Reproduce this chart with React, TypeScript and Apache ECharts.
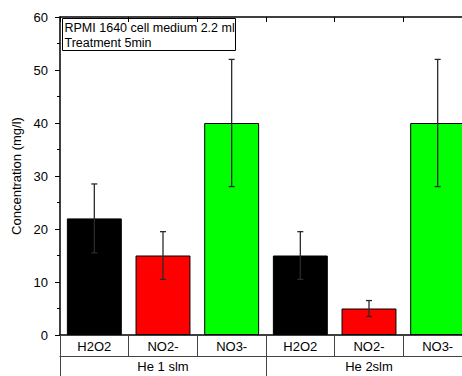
import React, { useEffect, useRef } from "react";
import * as echarts from "echarts";

const categories = ["H2O2", "NO2-", "NO3-", "H2O2", "NO2-", "NO3-"];
const groups = ["He 1 slm", "He 2slm"];
const values = [22, 15, 40, 15, 5, 40];
const errors = [6.5, 4.5, 12, 4.5, 1.5, 12];
const barColors = ["#000000", "#ff0000", "#00ff00", "#000000", "#ff0000", "#00ff00"];
const noteLines = ["RPMI 1640 cell medium 2.2 ml", "Treatment 5min"];

const FONT = "'Liberation Sans', Arial, sans-serif";

export default function App() {
  const ref = useRef<HTMLDivElement>(null);
  useEffect(() => {
    if (!ref.current) return;
    const chart = echarts.init(ref.current, undefined, { renderer: "svg" });
    chart.setOption({
      animation: false,
      backgroundColor: "#ffffff",
      grid: { left: 60, right: 0, top: 17, bottom: 41, containLabel: false },
      xAxis: [
        {
          type: "category",
          data: categories,
          position: "bottom",
          boundaryGap: true,
          axisLine: { show: true, lineStyle: { color: "#000", width: 1.5 } },
          axisTick: { show: true, interval: 0, length: 21, alignWithLabel: false, lineStyle: { color: "#444", width: 1 } },
          axisLabel: { interval: 0, color: "#000", fontFamily: FONT, fontSize: 13, margin: 5 },
          splitLine: { show: false },
        },
        {
          type: "category",
          data: groups,
          position: "bottom",
          offset: 21,
          boundaryGap: true,
          axisLine: { show: true, lineStyle: { color: "#444", width: 1 } },
          axisTick: { show: true, interval: 0, length: 21, lineStyle: { color: "#444", width: 1 } },
          axisLabel: { interval: 0, color: "#000", fontFamily: FONT, fontSize: 13, margin: 4 },
        },
        {
          type: "category",
          data: categories,
          position: "top",
          boundaryGap: true,
          axisLine: { show: true, lineStyle: { color: "#000", width: 1.5 } },
          axisTick: { show: true, inside: true, interval: 0, length: 5, lineStyle: { color: "#000", width: 1 } },
          axisLabel: { show: false },
        },
      ],
      yAxis: {
        type: "value",
        min: 0,
        max: 60,
        interval: 10,
        name: "Concentration (mg/l)",
        nameLocation: "middle",
        nameGap: 33,
        nameTextStyle: { color: "#000", fontFamily: FONT, fontSize: 13 },
        axisLine: { show: true, lineStyle: { color: "#000", width: 1.5 } },
        axisTick: { show: true, length: 5, lineStyle: { color: "#000", width: 1 } },
        minorTick: { show: true, splitNumber: 2, length: 3, lineStyle: { color: "#000", width: 1 } },
        axisLabel: { color: "#000", fontFamily: FONT, fontSize: 13, margin: 12 },
        splitLine: { show: false },
      },
      series: [
        {
          type: "bar",
          xAxisIndex: 0,
          barWidth: "80%",
          data: values.map((v, i) => ({
            value: v,
            itemStyle: { color: barColors[i], borderColor: "#000", borderWidth: 1 },
          })),
          z: 2,
        },
        {
          type: "custom",
          xAxisIndex: 0,
          z: 5,
          data: values.map((v, i) => [i, v, errors[i]]),
          renderItem: (params: any, api: any) => {
            const x = api.value(0);
            const v = api.value(1);
            const e = api.value(2);
            const top = api.coord([x, v + e]);
            const bot = api.coord([x, v - e]);
            const hw = 3;
            const st = { stroke: "#2a2a2a", lineWidth: 1.3 };
            return {
              type: "group",
              children: [
                { type: "line", shape: { x1: top[0], y1: top[1], x2: bot[0], y2: bot[1] }, style: st },
                { type: "line", shape: { x1: top[0] - hw, y1: top[1], x2: top[0] + hw, y2: top[1] }, style: st },
                { type: "line", shape: { x1: bot[0] - hw, y1: bot[1], x2: bot[0] + hw, y2: bot[1] }, style: st },
              ],
            };
          },
        },
      ],
      graphic: [
        {
          type: "group",
          left: 62,
          top: 18,
          z: 10,
          children: [
            {
              type: "rect",
              shape: { x: 0, y: 0, width: 173, height: 32 },
              style: { fill: "#fff", stroke: "#000", lineWidth: 1 },
            },
            {
              type: "text",
              x: 2,
              y: 2,
              style: { text: noteLines.join("\n"), fill: "#000", font: `12.5px ${FONT}`, lineHeight: 15 },
            },
          ],
        },
      ],
    });
    return () => chart.dispose();
  }, []);
  return (
    <div style={{ position: "fixed", left: 0, top: 0, width: 462, height: 376, overflow: "hidden" }}>
      <div ref={ref} style={{ width: 472, height: 376 }} />
    </div>
  );
}
